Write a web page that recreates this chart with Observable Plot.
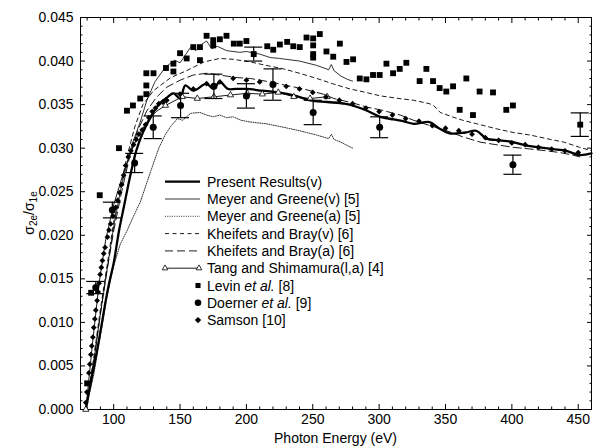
<!DOCTYPE html>
<html><head><meta charset="utf-8">
<script src="https://cdn.jsdelivr.net/npm/d3@7"></script>
<script src="https://cdn.jsdelivr.net/npm/@observablehq/plot@0.6"></script>
<style>body{margin:0;background:#fff} svg{display:block}</style>
</head><body><div id="chart"></div>
<script>
// ---------- data: [photon energy (eV), sigma2e/sigma1e] ----------
const presentResults = [[79,0],[82,0.0025],[85,0.0048],[88,0.0072],[91,0.0098],[94,0.0125],[97,0.0148],[100,0.0168],
 [104,0.0205],[108,0.0235],[112,0.0265],[117,0.0297],[122,0.0318],[128,0.0336],[134,0.0350],[140,0.0358],
 [145,0.0363],[150,0.0357],[154,0.0372],[160,0.0366],[170,0.0374],[175,0.0368],[180,0.0376],[186,0.0368],
 [192,0.0368],[200,0.0368],[212,0.0366],[224,0.0364],[237,0.0360],[248,0.0355],[261,0.0353],[274,0.0351],
 [284,0.0347],[291,0.0343],[301,0.0336],[311,0.0333],[318,0.0331],[326,0.0328],[338,0.0330],[345,0.0323],
 [353,0.0317],[365,0.0318],[373,0.0320],[381,0.0311],[391,0.0309],[401,0.0307],[411,0.0303],[421,0.0301],
 [431,0.0299],[441,0.0297],[451,0.0292],[460,0.0294]];
const meyerGreeneV = [[79,0],[85,0.0055],[90,0.011],[95,0.016],[100,0.0210],[106,0.0258],[114,0.0305],[120,0.0330],
 [125,0.0355],[131,0.0376],[139,0.0393],[146,0.0401],[150,0.0398],[154,0.0407],[158,0.0416],[162,0.0412],
 [166,0.0419],[170,0.0423],[174,0.0414],[178,0.0417],[185,0.0412],[195,0.0410],[200,0.0411],[210,0.0408],
 [218,0.0404],[225,0.0403],[240,0.0400],[253,0.0395],[262,0.0390],[264,0.0396],[266,0.0389],[271,0.0383],
 [276,0.0379],[280,0.0377]];
const meyerGreeneA = [[79,0],[85,0.004],[90,0.0085],[95,0.0130],[100,0.0165],[105,0.0190],[110,0.0205],[115,0.0222],
 [120,0.0238],[128,0.0274],[134,0.0300],[139,0.0316],[143,0.0325],[148,0.0334],[152,0.0332],[158,0.0340],
 [165,0.0341],[170,0.0338],[175,0.0336],[180,0.0338],[185,0.0335],[190,0.0336],[196,0.0332],[203,0.0330],
 [215,0.0328],[228,0.0324],[240,0.0320],[253,0.0315],[262,0.0311],[264,0.0316],[266,0.0310],[271,0.0307],
 [276,0.0303],[280,0.0300]];
const kheifetsBrayV = [[79,0],[85,0.006],[90,0.0115],[95,0.0165],[100,0.0215],[105,0.0255],[110,0.0290],[116,0.0325],
 [122,0.0350],[130,0.0366],[143,0.0381],[155,0.0389],[168,0.0399],[180,0.0403],[190,0.0402],[203,0.0399],
 [215,0.0395],[228,0.0391],[240,0.0386],[253,0.0380],[265,0.0374],[278,0.0368],[290,0.0364],[301,0.0360],
 [315,0.0357],[326,0.0355],[338,0.0351],[341,0.0349],[346,0.0341],[355,0.0336],[363,0.0332],[376,0.0327],
 [389,0.0322],[401,0.0318],[414,0.0315],[426,0.0311],[439,0.0307],[451,0.0301],[460,0.0297]];
const kheifetsBrayA = [[79,0],[85,0.0055],[90,0.011],[95,0.016],[100,0.0205],[106,0.025],[112,0.029],[118,0.0320],
 [125,0.0343],[132,0.0358],[140,0.0370],[150,0.0378],[160,0.0384],[170,0.0386],[193,0.0381],[203,0.0380],
 [218,0.0376],[230,0.0372],[243,0.0368],[258,0.0362],[266,0.0357],[280,0.0352],[291,0.0347],[301,0.0344],
 [316,0.0338],[326,0.0332],[338,0.0326],[351,0.0320],[363,0.0313],[376,0.0307],[388,0.0304],[401,0.0301],
 [414,0.0299],[426,0.0297],[436,0.0295],[446,0.0292],[451,0.0290]];
const tangShimamura = [[79,0],[84,0.0075],[89,0.0145],[94,0.0195],[100,0.0235],[106,0.0265],[112,0.0292],[118,0.0313],
 [125,0.0330],[132,0.0342],[139,0.0349],[151.7,0.0359],[163,0.0357],[175.5,0.0359],[188,0.0361],[200.6,0.0363],
 [212,0.0362],[224,0.0364],[235.7,0.0359],[248,0.0357],[260.8,0.0359]];
const levin = [[80,0.0030],[83,0.0134],[89.5,0.0246],[104,0.0300],[110,0.0343],[114.5,0.0349],[120,0.0357],
 [124.6,0.0362],[124.6,0.0372],[124.6,0.0386],[130,0.0386],[139.4,0.0392],[145,0.0388],[145,0.0397],[150,0.0409],
 [155,0.0403],[160,0.0416],[165,0.0416],[165,0.0401],[170,0.0429],[175,0.0424],[175,0.0418],[180,0.0425],
 [185,0.0429],[190.5,0.0420],[195,0.0420],[200,0.0423],[205.5,0.0408],[215.7,0.0417],[220.2,0.0413],[225.2,0.0419],
 [230.7,0.0422],[235.3,0.0417],[240.2,0.0416],[245.3,0.0427],[250.3,0.0426],[250.3,0.0418],[250.3,0.0408],
 [250.3,0.0404],[255.3,0.0431],[260.3,0.0411],[265.4,0.0405],[270.4,0.0420],[275.4,0.0399],[280.4,0.0402],
 [285.4,0.0380],[290.4,0.0379],[295.4,0.0384],[300.4,0.0384],[305.5,0.0397],[310.5,0.0386],[315.5,0.0391],
 [320.5,0.0398],[330.5,0.0377],[335.6,0.0391],[340.6,0.0377],[345.6,0.0369],[350.6,0.0365],[355.7,0.0371],
 [360.7,0.0344],[365.7,0.0380],[370.7,0.0338],[375.7,0.0365],[385.8,0.0364],[395.8,0.0344],[400.8,0.0349],
 [451.5,0.0327]];
// [energy, value, error]
const levinErrors = [[205.5,0.0408,0.0008],[451.5,0.0327,0.00135]];
const doerner = [[86.5,0.0140,0.0007],[99,0.0229,0.0009],[115.8,0.0283,0.0011],[129.8,0.0324,0.0013],
 [150.4,0.0349,0.0014],[175.5,0.0371,0.0014],[200,0.0360,0.0014],[220,0.0373,0.0018],[250.3,0.0341,0.0014],
 [300.4,0.0324,0.0012],[400.8,0.0281,0.0011]];
const samson = [[79,0.0008],[79.8,0.0020],[80.5,0.0030],[81.3,0.0042],[82,0.0052],[82.8,0.0063],[83.5,0.0073],
 [84.3,0.0083],[85,0.0094],[85.8,0.0104],[86.5,0.0114],[87.5,0.0125],[88.3,0.0135],[89,0.0145],[89.8,0.0155],
 [90.7,0.0163],[91.5,0.0171],[92.5,0.0179],[93.5,0.0186],[95.3,0.0198],[96.5,0.0206],[97.7,0.0213],[99.5,0.0222],
 [101.5,0.0232],[103,0.0240],[104.5,0.0249],[106,0.0258],[107.5,0.0269],[109,0.0280],[111,0.0290],[113,0.0297],
 [115,0.0304],[117,0.0310],[119,0.0316],[121.5,0.0321],[124,0.0327],[126.5,0.0335],[129,0.0342],[131.5,0.0346],
 [134,0.0351],[137,0.0353],[140,0.0355],[150,0.0362],[160,0.0368],[170,0.0374],[180,0.0376],[190,0.0380],
 [200,0.0378],[210,0.0376],[220,0.0374],[230,0.0371],[240,0.0368],[250,0.0364],[260,0.0359],[270,0.0355],
 [280,0.0351],[290,0.0346],[300,0.0342],[310,0.0338],[320,0.0334],[330,0.0331],[340,0.0326],[350,0.0323],
 [360,0.0320],[370,0.0316],[380,0.0312],[390,0.0309],[400,0.0306],[410,0.0304],[420,0.0301],[430,0.0299],
 [440,0.0297],[450,0.0295]];

const xMajorTicks = [100,150,200,250,300,350,400,450];
const xMinorTicks = d3.range(80, 461, 10).filter(v => v % 50 !== 0);
const yMajorTicks = d3.range(0, 10).map(i => i * 0.005);
const yMinorTicks = d3.range(0, 46).filter(i => i % 5 !== 0).map(i => i * 0.001);

const legendLabels = [
  [["Present Results(v)", false]],
  [["Meyer and Greene(v) [5]", false]],
  [["Meyer and Greene(a) [5]", false]],
  [["Kheifets and Bray(v) [6]", false]],
  [["Kheifets and Bray(a) [6]", false]],
  [["Tang and Shimamura(l,a) [4]", false]],
  [["Levin ", false], ["et al.", true], [" [8]", false]],
  [["Doerner ", false], ["et al.", true], [" [9]", false]],
  [["Samson [10]", false]]
];

// ---------- layout ----------
const W = 593, H = 447, mL = 80, mR = 2, mT = 17, mB = 38;
const xDomain = [75, 460], yDomain = [0, 0.045];
const capHalfEV = 9 * (xDomain[1] - xDomain[0]) / (W - mL - mR);
const X = d => d[0], Y = d => d[1];
const FS = 14;

const axisCommon = {label: null, stroke: "black", strokeWidth: 1, fontSize: FS};
const chart = Plot.plot({
  width: W, height: H,
  marginLeft: mL, marginRight: mR, marginTop: mT, marginBottom: mB,
  style: {fontFamily: "'Liberation Sans', Arial, Helvetica, sans-serif", fontSize: FS + "px", color: "black", background: "white"},
  x: {domain: xDomain},
  y: {domain: yDomain},
  marks: [
    Plot.axisX(xMajorTicks, {...axisCommon, anchor: "bottom", tickSize: -5, tickPadding: 10, tickFormat: d3.format("d")}),
    Plot.axisX(xMinorTicks, {...axisCommon, anchor: "bottom", tickSize: -2.5, tickFormat: () => ""}),
    Plot.axisX(xMajorTicks, {...axisCommon, anchor: "top", tickSize: -5, tickFormat: () => ""}),
    Plot.axisX(xMinorTicks, {...axisCommon, anchor: "top", tickSize: -2.5, tickFormat: () => ""}),
    Plot.axisY(yMajorTicks, {...axisCommon, anchor: "left", tickSize: -5, tickPadding: 12, tickFormat: d3.format(".3f")}),
    Plot.axisY(yMinorTicks, {...axisCommon, anchor: "left", tickSize: -2.5, tickFormat: () => ""}),
    Plot.axisY(yMajorTicks, {...axisCommon, anchor: "right", tickSize: -5, tickFormat: () => ""}),
    Plot.axisY(yMinorTicks, {...axisCommon, anchor: "right", tickSize: -2.5, tickFormat: () => ""}),
    Plot.frame({stroke: "black", strokeWidth: 1}),

    Plot.line(meyerGreeneA, {x: X, y: Y, stroke: "black", strokeWidth: 0.8, strokeDasharray: "1,1.3"}),
    Plot.line(kheifetsBrayV, {x: X, y: Y, stroke: "black", strokeWidth: 0.9, strokeDasharray: "4,3.5"}),
    Plot.line(kheifetsBrayA, {x: X, y: Y, stroke: "black", strokeWidth: 0.9, strokeDasharray: "8,4"}),
    Plot.line(meyerGreeneV, {x: X, y: Y, stroke: "black", strokeWidth: 0.8}),
    Plot.line(tangShimamura, {x: X, y: Y, stroke: "black", strokeWidth: 0.9}),
    Plot.line(presentResults, {x: X, y: Y, stroke: "black", strokeWidth: 2.3, curve: "catmull-rom"}),
    Plot.dot(tangShimamura.filter(d => d[0] === 79 || d[0] >= 139), {x: X, y: Y, symbol: "triangle", r: 2.3, stroke: "black", strokeWidth: 0.8, fill: "white"}),

    Plot.ruleX(doerner, {x: X, y1: d => d[1] - d[2], y2: d => d[1] + d[2], stroke: "black", strokeWidth: 1.2}),
    Plot.ruleY(doerner, {y: d => d[1] - d[2], x1: d => d[0] - capHalfEV, x2: d => d[0] + capHalfEV, stroke: "black", strokeWidth: 1.2}),
    Plot.ruleY(doerner, {y: d => d[1] + d[2], x1: d => d[0] - capHalfEV, x2: d => d[0] + capHalfEV, stroke: "black", strokeWidth: 1.2}),
    Plot.ruleX(levinErrors, {x: X, y1: d => d[1] - d[2], y2: d => d[1] + d[2], stroke: "black", strokeWidth: 1.2}),
    Plot.ruleY(levinErrors, {y: d => d[1] - d[2], x1: d => d[0] - capHalfEV, x2: d => d[0] + capHalfEV, stroke: "black", strokeWidth: 1.2}),
    Plot.ruleY(levinErrors, {y: d => d[1] + d[2], x1: d => d[0] - capHalfEV, x2: d => d[0] + capHalfEV, stroke: "black", strokeWidth: 1.2}),

    Plot.dot(samson, {x: X, y: Y, symbol: "diamond2", r: 2.6, fill: "black", stroke: "none"}),
    Plot.dot(doerner, {x: X, y: Y, symbol: "circle", r: 3.5, fill: "black", stroke: "none"}),
    Plot.dot(levin, {x: X, y: Y, symbol: "square", r: 3.3, fill: "black", stroke: "none"})
  ]
});
document.getElementById("chart").appendChild(chart);

// ---------- axis titles & legend ----------
const svg = d3.select(chart);
const font = "'Liberation Sans', Arial, Helvetica, sans-serif";
svg.append("text").attr("x", (mL + W - mR) / 2).attr("y", 443).attr("text-anchor", "middle")
  .attr("font-family", font).attr("font-size", FS).text("Photon Energy (eV)");
const yl = svg.append("text").attr("transform", `translate(34,${(mT + H - mB) / 2}) rotate(-90)`)
  .attr("text-anchor", "middle").attr("font-family", font).attr("font-size", FS);
yl.append("tspan").text("σ");
yl.append("tspan").attr("font-size", 10).attr("dy", 3).text("2e");
yl.append("tspan").attr("dy", -3).text("/σ");
yl.append("tspan").attr("font-size", 10).attr("dy", 3).text("1e");

const lg = svg.append("g").attr("font-family", font).attr("font-size", FS).attr("text-anchor", "start");
const rowY = i => 181.7 + 17.3 * i;
const lineStyles = [
  {w: 2.3, dash: null}, {w: 0.8, dash: null}, {w: 0.8, dash: "1,1.3"},
  {w: 0.9, dash: "4,3.5"}, {w: 0.9, dash: "8,4"}, {w: 0.9, dash: null}
];
lineStyles.forEach((s, i) => {
  lg.append("line").attr("x1", 165).attr("x2", 200).attr("y1", rowY(i)).attr("y2", rowY(i))
    .attr("stroke", "black").attr("stroke-width", s.w).attr("stroke-dasharray", s.dash);
});
[165, 199].forEach(x => lg.append("path").attr("d", d3.symbol(d3.symbolTriangle, 14)())
  .attr("transform", `translate(${x},${rowY(5)})`).attr("fill", "white").attr("stroke", "black").attr("stroke-width", 0.8));
lg.append("path").attr("d", d3.symbol(d3.symbolSquare, 26)()).attr("transform", `translate(198,${rowY(6)})`);
lg.append("path").attr("d", d3.symbol(d3.symbolCircle, 34)()).attr("transform", `translate(198,${rowY(7)})`);
lg.append("path").attr("d", d3.symbol(d3.symbolDiamond2, 26)()).attr("transform", `translate(198,${rowY(8)})`);
legendLabels.forEach((parts, i) => {
  const t = lg.append("text").attr("x", 207).attr("y", rowY(i)).attr("dy", "0.36em").attr("text-anchor", "start");
  parts.forEach(([s, it]) => t.append("tspan").attr("font-style", it ? "italic" : null).text(s));
});
</script></body></html>
